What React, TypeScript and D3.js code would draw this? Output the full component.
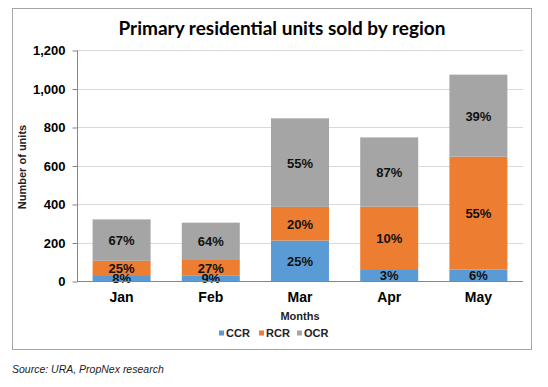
import React, { useEffect, useRef } from 'react';
import * as d3 from 'd3';

const months = ['Jan', 'Feb', 'Mar', 'Apr', 'May'];
const regions = ['CCR', 'RCR', 'OCR'];
const ccr = [26, 27, 210, 62, 59];
const rcr = [79, 82, 175, 324, 587];
const ocr = [215, 194, 460, 360, 426];
const ccrLabels = ['8%', '9%', '25%', '3%', '6%'];
const rcrLabels = ['25%', '27%', '20%', '10%', '55%'];
const ocrLabels = ['67%', '64%', '55%', '87%', '39%'];
const yTicks = [0, 200, 400, 600, 800, 1000, 1200];

const colors = ['#5B9BD5', '#ED7D31', '#A5A5A5'];

const W = 548;
const H = 387;

const App = () => {
  const ref = useRef<SVGSVGElement>(null);

  useEffect(() => {
    const svg = d3.select(ref.current);
    svg.selectAll('*').remove();

    const x = d3.scaleBand().domain(months).range([77, 523]).paddingInner(0.35).paddingOuter(0.175);
    const y = d3.scaleLinear().domain([0, 1200]).range([281, 50]);

    // outer frame
    svg.append('rect')
      .attr('x', 12.5).attr('y', 8.5)
      .attr('width', 519).attr('height', 341)
      .attr('fill', 'white').attr('stroke', '#a6a6a6');

    svg.append('text')
      .attr('x', 282).attr('y', 35)
      .attr('text-anchor', 'middle')
      .attr('font-family', 'Lato, "Open Sans", sans-serif')
      .attr('font-weight', 'bold')
      .attr('font-size', 19)
      .attr('fill', '#000')
      .text('Primary residential units sold by region');

    // gridlines
    svg.append('g').selectAll('line').data(yTicks.filter((t) => t > 0)).enter()
      .append('line')
      .attr('x1', 77).attr('x2', 523)
      .attr('y1', (d) => Math.round(y(d)) + 0.5).attr('y2', (d) => Math.round(y(d)) + 0.5)
      .attr('stroke', '#d9d9d9');

    // stacked bars
    const rows = months.map((m, i) => ({ month: m, CCR: ccr[i], RCR: rcr[i], OCR: ocr[i] }));
    const labels = [ccrLabels, rcrLabels, ocrLabels];
    const series = d3.stack<any>().keys(regions)(rows);

    series.forEach((s, si) => {
      const g = svg.append('g');
      g.selectAll('rect').data(s).enter().append('rect')
        .attr('x', (d) => x(d.data.month)!)
        .attr('width', x.bandwidth())
        .attr('y', (d) => y(d[1]))
        .attr('height', (d) => y(d[0]) - y(d[1]))
        .attr('fill', colors[si]);
    });

    series.forEach((s, si) => {
      svg.append('g').selectAll('text').data(s).enter().append('text')
        .attr('x', (d) => x(d.data.month)! + x.bandwidth() / 2)
        .attr('y', (d) => (y(d[0]) + y(d[1])) / 2 + 5)
        .attr('text-anchor', 'middle')
        .attr('font-family', 'Arial, "Liberation Sans", sans-serif')
        .attr('font-weight', 'bold')
        .attr('font-size', 13)
        .attr('fill', '#111')
        .text((d, i) => labels[si][i]);
    });

    // y axis
    const yAxis = svg.append('g').attr('transform', 'translate(77.5,0.5)')
      .call(d3.axisLeft(y).tickValues(yTicks).tickSize(5).tickPadding(7).tickFormat(d3.format(',')));
    yAxis.select('.domain').attr('stroke', '#868686').attr('d', `M-0,${y(1200)}V${y(0)}`);
    yAxis.selectAll('.tick line').attr('stroke', '#868686');
    yAxis.selectAll('.tick text')
      .attr('font-family', 'Arial, "Liberation Sans", sans-serif')
      .attr('font-weight', 'bold')
      .attr('font-size', 13)
      .attr('fill', '#000');

    // x axis line
    svg.append('line')
      .attr('x1', 77).attr('x2', 523)
      .attr('y1', 281.5).attr('y2', 281.5)
      .attr('stroke', '#868686');

    svg.append('g').selectAll('text').data(months).enter().append('text')
      .attr('x', (d) => x(d)! + x.bandwidth() / 2)
      .attr('y', 302)
      .attr('text-anchor', 'middle')
      .attr('font-family', 'Arial, "Liberation Sans", sans-serif')
      .attr('font-weight', 'bold')
      .attr('font-size', 14)
      .attr('fill', '#000')
      .text((d) => d);

    svg.append('text')
      .attr('x', 300).attr('y', 320)
      .attr('text-anchor', 'middle')
      .attr('font-family', 'Arial, "Liberation Sans", sans-serif')
      .attr('font-weight', 'bold')
      .attr('font-size', 11)
      .attr('fill', '#222')
      .text('Months');

    svg.append('text')
      .attr('transform', 'translate(26,167) rotate(-90)')
      .attr('text-anchor', 'middle')
      .attr('font-family', 'Arial, "Liberation Sans", sans-serif')
      .attr('font-weight', 'bold')
      .attr('font-size', 11)
      .attr('fill', '#222')
      .text('Number of units');

    // legend
    const legend = svg.append('g').attr('transform', 'translate(219,333)');
    const offsets = [0, 40, 78];
    regions.forEach((r, i) => {
      legend.append('rect')
        .attr('x', offsets[i]).attr('y', -2.5)
        .attr('width', 5).attr('height', 5)
        .attr('fill', colors[i]);
      legend.append('text')
        .attr('x', offsets[i] + 7).attr('y', 4)
        .attr('font-family', 'Arial, "Liberation Sans", sans-serif')
        .attr('font-weight', 'bold')
        .attr('font-size', 11)
        .attr('fill', '#222')
        .text(r);
    });

    svg.append('text')
      .attr('x', 12).attr('y', 373)
      .attr('font-family', 'Arial, "Liberation Sans", sans-serif')
      .attr('font-style', 'italic')
      .attr('font-size', 10.5)
      .attr('fill', '#222')
      .text('Source: URA, PropNex research');
  }, []);

  return (
    <svg ref={ref} width={W} height={H} style={{ position: 'absolute', left: 0, top: 0, background: '#fff' }} />
  );
};

export default App;
